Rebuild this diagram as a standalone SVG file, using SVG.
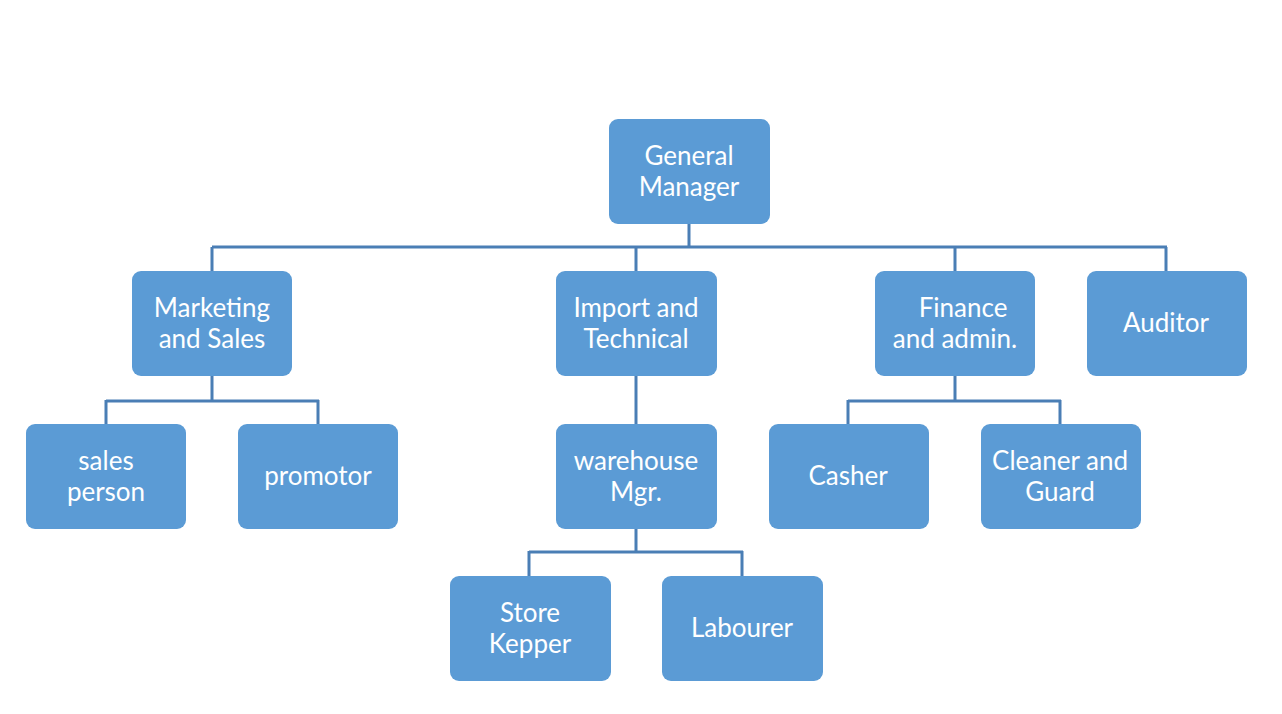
<svg xmlns="http://www.w3.org/2000/svg" width="1282" height="714" viewBox="0 0 1282 714">
<style>
.box{fill:#5b9bd5;}
.lbl{fill:#ffffff;font-family:Lato,"Open Sans","Liberation Sans",sans-serif;font-size:26px;text-anchor:middle;}
.con{fill:none;stroke:#4a7eb5;stroke-width:3;}
</style>
<rect width="1282" height="714" fill="#ffffff"/>
<g id="connectors">
<path class="con" d="M689 224V247M212 247H1167M212 247V271M636 247V271M955 247V271M1166 247V271"/>
<path class="con" d="M212 376V401M106 401H319M106 400V424M318 400V424"/>
<path class="con" d="M636 376V424"/>
<path class="con" d="M955 376V401M848 401H1061M848 400V424M1060 400V424"/>
<path class="con" d="M636 529V552M529 552H743M529 551V576M742 551V576"/>
</g>
<g id="general-manager"><rect class="box" x="609" y="119" width="161" height="105" rx="9"/><text class="lbl" x="689" y="165">General</text><text class="lbl" x="689" y="196">Manager</text></g>
<g id="marketing"><rect class="box" x="132" y="271" width="160" height="105" rx="9"/><text class="lbl" x="212" y="317">Marketing</text><text class="lbl" x="212" y="348">and Sales</text></g>
<g id="import"><rect class="box" x="556" y="271" width="161" height="105" rx="9"/><text class="lbl" x="636" y="317">Import and</text><text class="lbl" x="636" y="348">Technical</text></g>
<g id="finance"><rect class="box" x="875" y="271" width="160" height="105" rx="9"/><text class="lbl" x="963" y="317">Finance</text><text class="lbl" x="955" y="348">and admin.</text></g>
<g id="auditor"><rect class="box" x="1087" y="271" width="160" height="105" rx="9"/><text class="lbl" x="1166" y="332">Auditor</text></g>
<g id="sales-person"><rect class="box" x="26" y="424" width="160" height="105" rx="9"/><text class="lbl" x="106" y="470">sales</text><text class="lbl" x="106" y="501">person</text></g>
<g id="promotor"><rect class="box" x="238" y="424" width="160" height="105" rx="9"/><text class="lbl" x="318" y="485">promotor</text></g>
<g id="warehouse"><rect class="box" x="556" y="424" width="161" height="105" rx="9"/><text class="lbl" x="636" y="470">warehouse</text><text class="lbl" x="636" y="501">Mgr.</text></g>
<g id="casher"><rect class="box" x="769" y="424" width="160" height="105" rx="9"/><text class="lbl" x="848" y="485">Casher</text></g>
<g id="cleaner"><rect class="box" x="981" y="424" width="160" height="105" rx="9"/><text class="lbl" x="1060" y="470">Cleaner and</text><text class="lbl" x="1060" y="501">Guard</text></g>
<g id="store-kepper"><rect class="box" x="450" y="576" width="161" height="105" rx="9"/><text class="lbl" x="530" y="622">Store</text><text class="lbl" x="530" y="653">Kepper</text></g>
<g id="labourer"><rect class="box" x="662" y="576" width="161" height="105" rx="9"/><text class="lbl" x="742" y="637">Labourer</text></g>
</svg>
